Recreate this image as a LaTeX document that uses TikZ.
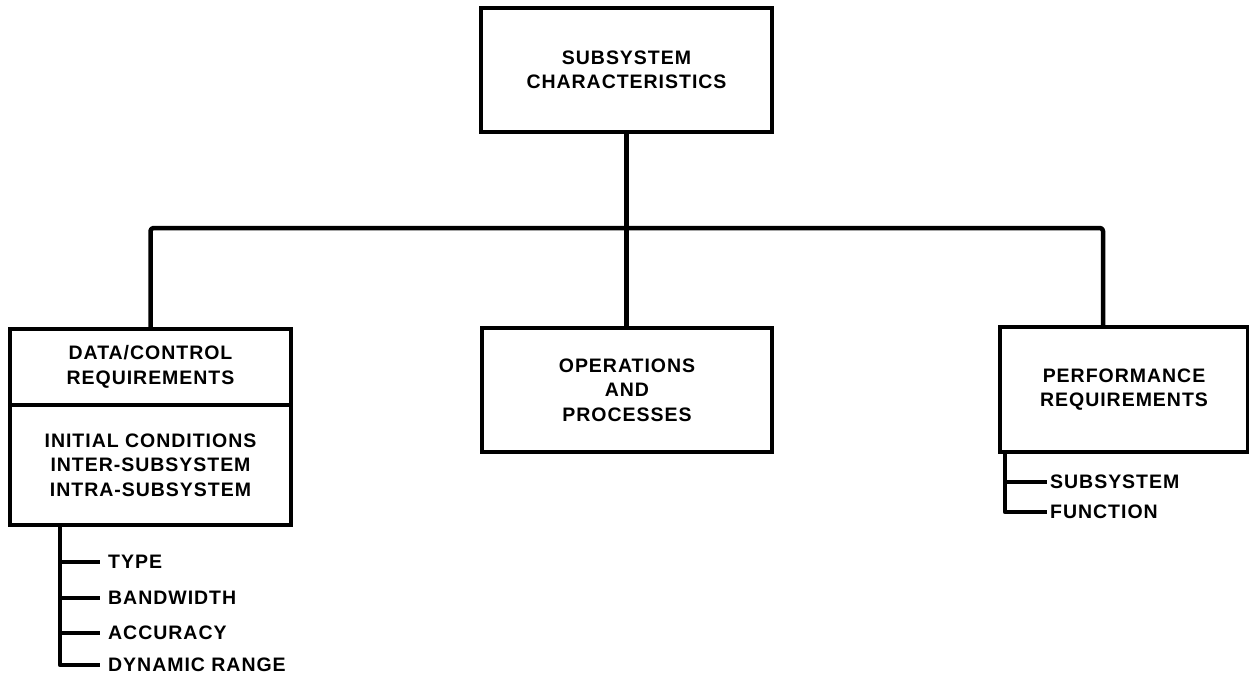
\documentclass[tikz,border=0pt]{standalone}
\usepackage{fontspec}
\setmainfont{Liberation Sans}[LetterSpace=5]
\begin{document}
\begin{tikzpicture}[x=1pt,y=-1pt,
  box/.style={draw, line width=3.5pt, rectangle, inner sep=0pt, align=center,
    font=\fontsize{19.5}{24.5}\selectfont\bfseries},
  conn/.style={line width=4.5pt, line join=round},
  twig/.style={line width=4.5pt, line join=round},
  item/.style={anchor=west, inner sep=0pt, font=\fontsize{19.5}{24.5}\selectfont\bfseries}]
\useasboundingbox (0,0) rectangle (1249,685);

% boxes
\node[box, minimum width=291pt, minimum height=124pt] (top) at (626.5,70)
  {SUBSYSTEM\\CHARACTERISTICS};
\node[box, minimum width=281pt, minimum height=76pt] (dc) at (150.5,367)
  {DATA/CONTROL\\REQUIREMENTS};
\node[box, minimum width=281pt, minimum height=120pt] (dcl) at (150.5,465)
  {INITIAL CONDITIONS\\INTER-SUBSYSTEM\\INTRA-SUBSYSTEM};
\node[box, minimum width=290pt, minimum height=124pt] (ops) at (627,390)
  {OPERATIONS\\AND\\PROCESSES};
\node[box, minimum width=248pt, minimum height=125pt] (perf) at (1124,389.5)
  {PERFORMANCE\\REQUIREMENTS};

% main tree
\coordinate (bar) at (626.5,228);
\coordinate (pn) at (1103,327);
\draw[conn] (top.south) -- (top.south |- ops.north);
\draw[conn, rounded corners=3pt] (dc.north) |- (bar) -| (pn);

% data/control sub-items
\node[item] (type) at (108,562) {TYPE};
\node[item] (bw)   at (108,598) {BANDWIDTH};
\node[item] (acc)  at (108,633) {ACCURACY};
\node[item] (dyn)  at (108,665) {DYNAMIC RANGE};
\coordinate (lt) at (60,525);
\draw[twig] (lt) |- ([xshift=-8pt]dyn.west);
\foreach \n in {type,bw,acc}
  \draw[twig] (lt |- \n.west) -- ([xshift=-8pt]\n.west);

% performance sub-items
\node[item] (sub) at (1050,482) {SUBSYSTEM};
\node[item] (fun) at (1050,512) {FUNCTION};
\coordinate (rt) at (1005,452);
\draw[twig] (rt) |- ([xshift=-3pt]fun.west);
\draw[twig] (rt |- sub.west) -- ([xshift=-3pt]sub.west);
\end{tikzpicture}
\end{document}
